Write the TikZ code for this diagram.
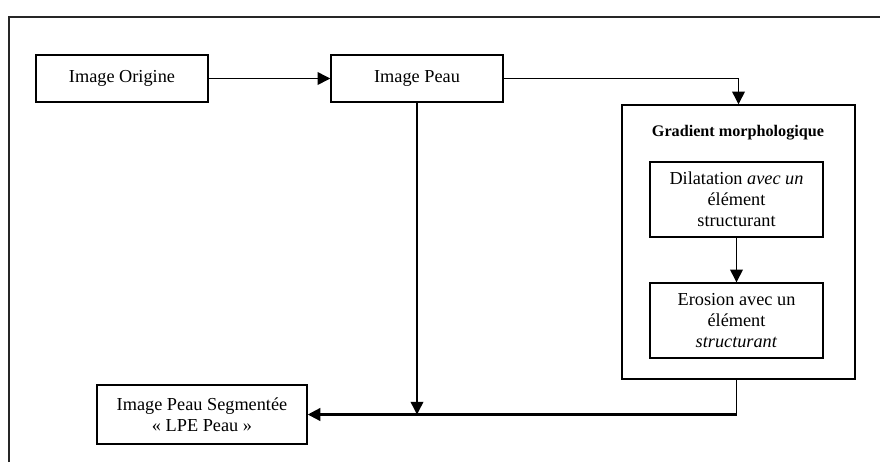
\documentclass[tikz,border=0pt]{standalone}
\usepackage{fontspec}
\setmainfont{Liberation Serif}
\usetikzlibrary{arrows.meta,positioning,calc}

\begin{document}
\begin{tikzpicture}[x=0.025cm,y=-0.025cm,
    every node/.style={font=\fontsize{13}{15}\selectfont},
    etape/.style={draw,line width=1pt,align=center,inner sep=2pt},
    fleche/.style={-{Triangle[length=9pt,width=9pt]},line width=1pt},
    flechefort/.style={-{Triangle[length=9pt,width=9pt]},line width=1.6pt}]
  \useasboundingbox (0,0) rectangle (880,462);

  %% Cadre exterieur
  \draw[line width=1pt,black!85] (9,462) -- (9,17) -- (880,17);

  %% Etapes principales
  \node[etape,minimum width=4.3cm,minimum height=1.175cm] (orig) at (122,78.5) {Image Origine};
  \node[etape,minimum width=4.3cm,minimum height=1.175cm] (peau) at (417,78.5) {Image Peau};
  \node[etape,minimum width=5.25cm,minimum height=1.475cm] (seg) at (202,414.5)
        {Image Peau Segmentée\\« LPE Peau »};

  %% Gradient morphologique
  \node[etape,minimum width=5.825cm,minimum height=6.85cm] (grad) at (738.5,242) {};
  \node[font=\fontsize{11.5}{14}\selectfont\bfseries] (gradtitre) at (738,133) {Gradient morphologique};
  \node[etape,minimum width=4.325cm,minimum height=1.875cm] (dil) at (736.5,199.5)
        {Dilatation \textit{avec un}\\élément\\structurant};
  \node[etape,minimum width=4.325cm,minimum height=1.875cm] (ero) at (736.5,320.5)
        {Erosion avec un\\élément\\\textit{structurant}};
  \coordinate (coude) at (ero.south |- seg.east);

  %% Fleches
  \draw[fleche] (orig.east) -- (peau.west);
  \draw[fleche] (peau.east) -| (grad.north);
  \draw[fleche] (dil.south) -- (ero.north);
  \draw[fleche] (peau.south) -- (peau.south |- seg.east);
  \draw[line width=1pt] (grad.south -| ero.south) -- (coude);
  \draw[flechefort] (coude) -- (seg.east);
\end{tikzpicture}
\end{document}
